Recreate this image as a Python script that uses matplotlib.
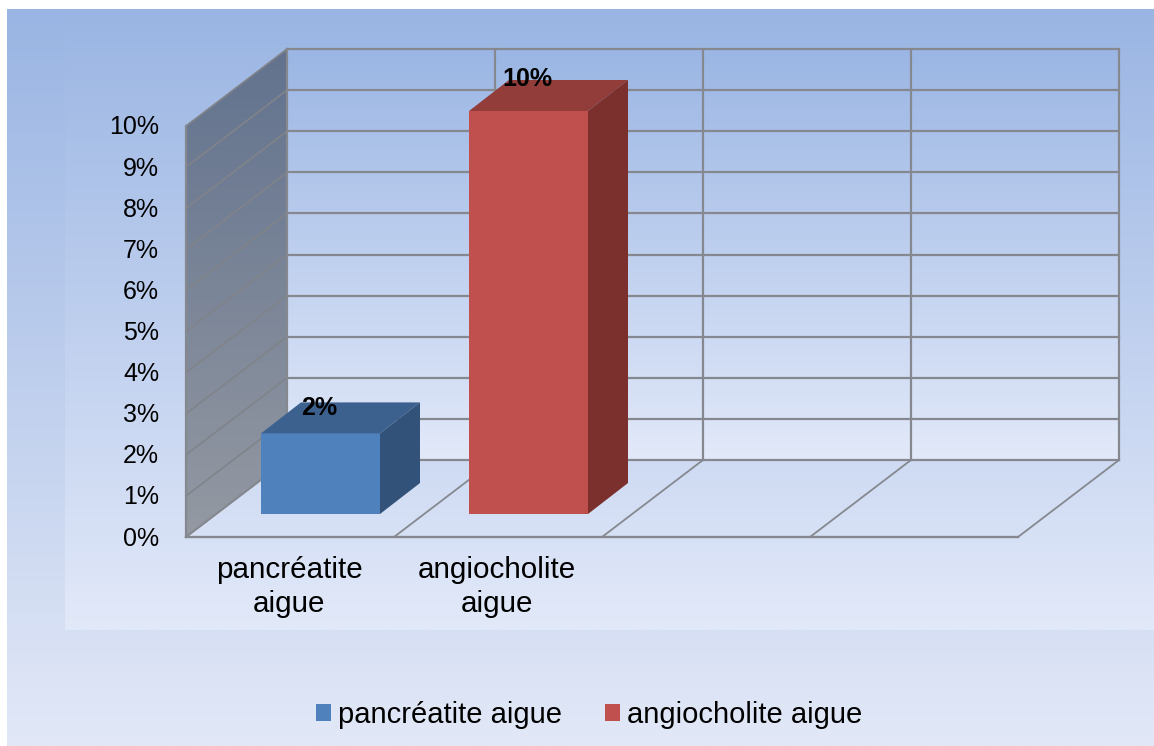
#!/usr/bin/env python3
"""3D-looking bar chart: pancréatite aigue vs angiocholite aigue."""

import matplotlib
matplotlib.use("Agg")
import matplotlib.pyplot as plt
import numpy as np
from matplotlib.colors import to_rgb
from matplotlib.patches import Patch, Polygon

categories = ["pancréatite\naigue", "angiocholite\naigue"]
series_names = ["pancréatite aigue", "angiocholite aigue"]
values = [2, 10]
tick_values = list(range(0, 11))
tick_labels = [f"{v}%" for v in tick_values]
n_slots = 4

front_colors = ["#4f81bd", "#c0504d"]
top_colors = ["#3c618f", "#933d3b"]
side_colors = ["#32527a", "#7b302e"]
line_color = "#85898f"
wall_line_color = "#808389"

plt.rcParams["font.family"] = ["Liberation Sans", "DejaVu Sans"]

# pixel layout of the fake 3D box
X0, X1 = 186, 1018
Y0, UNIT = 537, 41.1
DX, DY = 101, -77
BAR_W, BAR_DX, BAR_DY, BAR_BASE, BAR_UNIT = 119, 40, -31, 514, 40.3
BAR_LEFT = [261, 469]


def val_y(v):
    return Y0 - v * UNIT


def gradient(ax, extent, top, bottom, clip=None):
    c0, c1 = np.array(to_rgb(top)), np.array(to_rgb(bottom))
    t = np.linspace(0, 1, 256)[:, None, None]
    img = (1 - t) * c0[None, None, :] + t * c1[None, None, :]
    im = ax.imshow(img, extent=extent, aspect="auto", zorder=1, interpolation="bilinear")
    if clip is not None:
        clip.set_transform(ax.transData)
        im.set_clip_path(clip)
    return im


fig = plt.figure(figsize=(11.54, 7.46), dpi=100, facecolor="white")
ax = fig.add_axes([0, 0, 1, 1])

# backgrounds
gradient(ax, (7, 1154, 746, 9), "#9ab5e3", "#e2e8f7")
gradient(ax, (65, 1154, 630, 9), "#9ab5e3", "#e2e9f9").set_zorder(1.1)
gradient(ax, (X0 + DX, X1 + DX, Y0 + DY, val_y(10) + DY), "#9bb6e4", "#e2e9f9").set_zorder(1.2)

# side wall
wall = Polygon([(X0, val_y(0)), (X0, val_y(10)), (X0 + DX, val_y(10) + DY), (X0 + DX, val_y(0) + DY)],
               closed=True, facecolor="none", edgecolor="none")
ax.add_patch(wall)
gradient(ax, (X0, X0 + DX, val_y(0), val_y(10) + DY), "#62728e", "#9499a2", clip=wall).set_zorder(1.3)

slot_w = (X1 - X0) / n_slots
back_right = X1 + DX

# grid lines on the back wall and the side wall
for v in tick_values:
    y = val_y(v)
    ax.plot([X0 + DX, back_right], [y + DY, y + DY], color=line_color, lw=1.6, zorder=2)
    ax.plot([X0, X0 + DX], [y, y + DY], color=wall_line_color, lw=1.2, zorder=2)
ax.plot([X0, X0], [val_y(0), val_y(10)], color=line_color, lw=1.6, zorder=2)

# slot separators: floor and back wall
for i in range(n_slots + 1):
    fx = X0 + i * slot_w
    ax.plot([fx, fx + DX], [Y0, Y0 + DY], color=line_color, lw=1.3, zorder=2)
    ax.plot([fx + DX, fx + DX], [Y0 + DY, val_y(10) + DY], color=line_color, lw=1.6, zorder=2)
ax.plot([X0, X1], [Y0, Y0], color=line_color, lw=1.7, zorder=2)

# bars
for left, v, fc, tc, sc in zip(BAR_LEFT, values, front_colors, top_colors, side_colors):
    right = left + BAR_W
    top = BAR_BASE - v * BAR_UNIT
    ax.add_patch(Polygon([(left, BAR_BASE), (right, BAR_BASE), (right, top), (left, top)], facecolor=fc, zorder=3))
    ax.add_patch(Polygon([(left, top), (right, top), (right + BAR_DX, top + BAR_DY), (left + BAR_DX, top + BAR_DY)],
                         facecolor=tc, zorder=3))
    ax.add_patch(Polygon([(right, BAR_BASE), (right + BAR_DX, BAR_BASE + BAR_DY), (right + BAR_DX, top + BAR_DY), (right, top)],
                         facecolor=sc, zorder=3))
    ax.text(left + 58, val_y(v) - 47, f"{v}%", ha="center", va="center", fontsize=18,
            fontweight="bold", color="black", zorder=4)

# y tick labels
for v, label in zip(tick_values, tick_labels):
    ax.text(159, val_y(v) + 1.5, label, ha="right", va="center", fontsize=18, color="black", zorder=4)

# category labels
for i, cat in enumerate(categories):
    ax.text(X0 + (i + 0.5) * slot_w - 1, 587, cat, ha="center", va="center", fontsize=21.3,
            linespacing=1.28, color="black", zorder=4)

handles = [Patch(facecolor=c, edgecolor="none") for c in front_colors]
leg = ax.legend(handles, series_names, loc="center", bbox_to_anchor=(589 / 1154, 1 - 715 / 746), ncol=2,
                frameon=False, fontsize=21, handlelength=0.52, handleheight=0.52, handletextpad=0.25,
                columnspacing=1.45, borderpad=0)
leg.set_zorder(5)

ax.set_xlim(0, 1154)
ax.set_ylim(746, 0)
ax.axis("off")

fig.savefig("out.png", dpi=100, facecolor="white")
